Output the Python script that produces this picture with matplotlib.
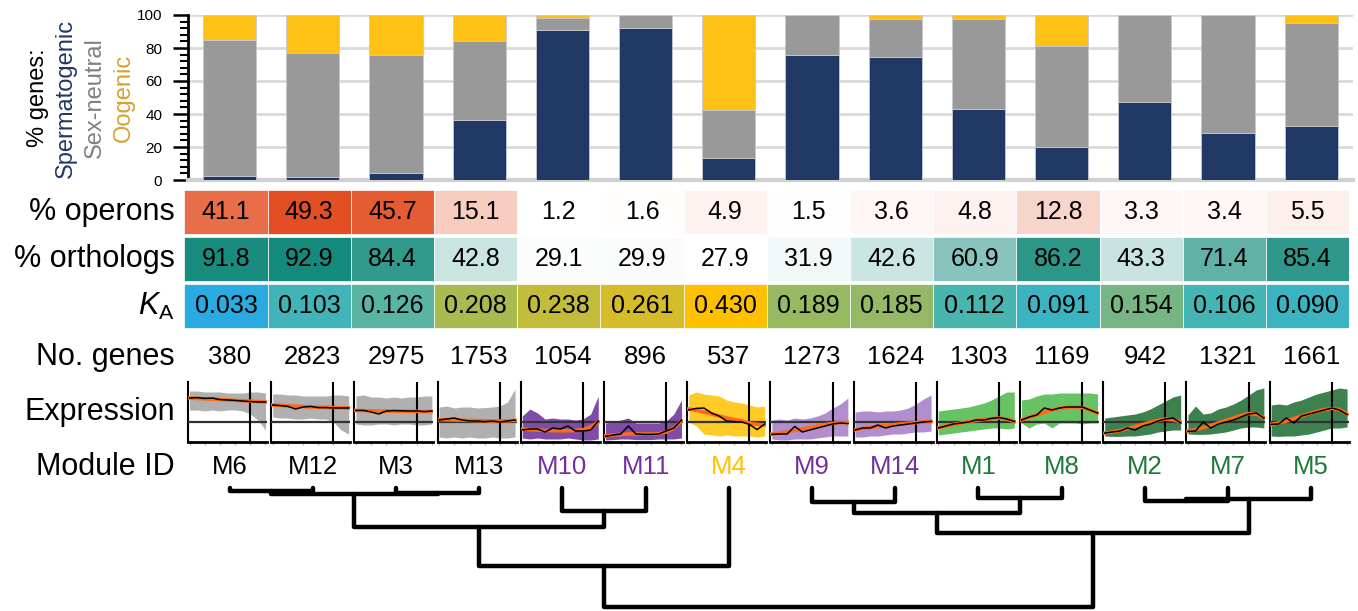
import numpy as np
import matplotlib
matplotlib.use("Agg")
import matplotlib.pyplot as plt
from matplotlib.patches import Rectangle
from matplotlib.colors import LinearSegmentedColormap, Normalize

plt.rcParams['font.family'] = ['Liberation Sans', 'DejaVu Sans']
plt.rcParams['mathtext.fontset'] = 'custom'
plt.rcParams['mathtext.rm'] = 'Liberation Sans'
plt.rcParams['mathtext.it'] = 'Liberation Sans:italic'

# module order (dendrogram leaf order)
modules = ['M6', 'M12', 'M3', 'M13', 'M10', 'M11', 'M4', 'M9', 'M14', 'M1', 'M8', 'M2', 'M7', 'M5']
module_colors = ['black', 'black', 'black', 'black', '#7030a0', '#7030a0', '#ffc000',
                 '#7030a0', '#7030a0', '#1f7a3a', '#1f7a3a', '#1f7a3a', '#1f7a3a', '#1f7a3a']

# % genes per sex-bias class
sperm = [2.2, 1.6, 4.1, 36.5, 91.2, 92.2, 13.3, 75.7, 74.5, 43.3, 20.0, 47.3, 28.6, 32.7]
neutral = [82.8, 75.4, 71.4, 47.8, 7.2, 7.6, 28.9, 24.3, 23.3, 54.3, 61.2, 52.7, 71.4, 62.6]
oogenic = [15.0, 23.0, 24.5, 15.7, 1.6, 0.2, 57.8, 0.0, 2.2, 2.4, 18.8, 0.0, 0.0, 4.7]

operons = [41.1, 49.3, 45.7, 15.1, 1.2, 1.6, 4.9, 1.5, 3.6, 4.8, 12.8, 3.3, 3.4, 5.5]
orthologs = [91.8, 92.9, 84.4, 42.8, 29.1, 29.9, 27.9, 31.9, 42.6, 60.9, 86.2, 43.3, 71.4, 85.4]
ka = [0.033, 0.103, 0.126, 0.208, 0.238, 0.261, 0.430, 0.189, 0.185, 0.112, 0.091, 0.154, 0.106, 0.090]
n_genes = [380, 2823, 2975, 1753, 1054, 896, 537, 1273, 1624, 1303, 1169, 942, 1321, 1661]

# expression profiles over 11 time points: black mean, orange fit, band top/bottom
expr_mean = {
    'M6': [1.2, 1.22, 1.18, 1.2, 1.12, 1.1, 1.08, 1.05, 1.02, 1.0, 1.0],
    'M12': [0.85, 0.82, 0.78, 0.65, 0.75, 0.78, 0.72, 0.72, 0.7, 0.7, 0.7],
    'M3': [0.58, 0.58, 0.5, 0.4, 0.55, 0.57, 0.56, 0.55, 0.55, 0.52, 0.55],
    'M13': [0.1, 0.15, 0.2, 0.1, 0.05, 0.05, 0.02, 0.05, 0.0, 0.05, 0.1],
    'M10': [-0.4, -0.35, -0.35, -0.5, -0.3, -0.35, -0.2, -0.45, -0.45, -0.4, 0.05],
    'M11': [-0.72, -0.65, -0.6, -0.2, -0.6, -0.62, -0.62, -0.6, -0.45, -0.3, 0.1],
    'M4': [0.6, 0.68, 0.7, 0.45, 0.3, 0.05, 0.02, 0.0, -0.12, -0.38, -0.1],
    'M9': [-0.62, -0.6, -0.6, -0.22, -0.5, -0.4, -0.3, -0.2, -0.1, -0.05, -0.08],
    'M14': [-0.4, -0.3, -0.3, -0.15, -0.3, -0.2, -0.15, -0.1, -0.05, 0.0, 0.03],
    'M1': [-0.3, -0.2, -0.1, -0.05, 0.0, 0.1, 0.1, 0.18, 0.22, 0.15, 0.03],
    'M8': [0.1, 0.25, 0.35, 0.7, 0.6, 0.7, 0.75, 0.75, 0.75, 0.6, 0.45],
    'M2': [-0.55, -0.5, -0.45, -0.3, -0.4, -0.2, -0.1, 0.05, 0.15, 0.2, -0.05],
    'M7': [-0.47, -0.45, 0.0, -0.3, -0.1, 0.0, 0.1, 0.25, 0.4, 0.45, 0.2],
    'M5': [-0.12, -0.1, 0.2, -0.05, 0.3, 0.4, 0.5, 0.6, 0.7, 0.6, 0.37],
}
expr_fit = {
    'M6': [1.2, 1.18, 1.16, 1.14, 1.12, 1.1, 1.08, 1.06, 1.04, 1.02, 1.0],
    'M12': [0.85, 0.83, 0.81, 0.79, 0.77, 0.75, 0.74, 0.73, 0.72, 0.71, 0.7],
    'M3': [0.58, 0.57, 0.56, 0.55, 0.55, 0.54, 0.54, 0.53, 0.53, 0.52, 0.52],
    'M13': [0.12, 0.11, 0.1, 0.09, 0.08, 0.07, 0.06, 0.05, 0.05, 0.06, 0.08],
    'M10': [-0.35, -0.38, -0.4, -0.42, -0.43, -0.44, -0.44, -0.42, -0.38, -0.25, 0.0],
    'M11': [-0.7, -0.65, -0.62, -0.6, -0.6, -0.6, -0.6, -0.58, -0.5, -0.3, 0.05],
    'M4': [0.65, 0.58, 0.5, 0.4, 0.3, 0.2, 0.12, 0.05, -0.05, -0.12, -0.15],
    'M9': [-0.6, -0.55, -0.5, -0.42, -0.35, -0.28, -0.2, -0.13, -0.07, -0.03, -0.02],
    'M14': [-0.38, -0.32, -0.27, -0.22, -0.18, -0.14, -0.1, -0.06, -0.03, 0.0, 0.03],
    'M1': [-0.28, -0.2, -0.12, -0.05, 0.02, 0.08, 0.13, 0.17, 0.2, 0.15, 0.03],
    'M8': [0.1, 0.22, 0.35, 0.48, 0.6, 0.68, 0.73, 0.76, 0.72, 0.6, 0.45],
    'M2': [-0.55, -0.5, -0.42, -0.33, -0.22, -0.12, -0.02, 0.08, 0.15, 0.12, 0.0],
    'M7': [-0.45, -0.38, -0.28, -0.18, -0.05, 0.08, 0.2, 0.32, 0.42, 0.4, 0.22],
    'M5': [-0.12, -0.05, 0.05, 0.17, 0.3, 0.42, 0.53, 0.62, 0.68, 0.62, 0.4],
}
expr_hi = {
    'M6': [1.55, 1.55, 1.5, 1.5, 1.5, 1.45, 1.45, 1.45, 1.5, 1.5, 1.45],
    'M12': [1.4, 1.4, 1.35, 1.35, 1.3, 1.3, 1.3, 1.3, 1.35, 1.35, 1.3],
    'M3': [1.3, 1.35, 1.25, 1.25, 1.2, 1.25, 1.2, 1.25, 1.25, 1.3, 1.3],
    'M13': [0.75, 0.8, 0.7, 0.75, 0.75, 0.7, 0.72, 0.75, 0.8, 1.0, 1.65],
    'M10': [0.3, 0.65, 0.45, 0.15, 0.2, 0.15, 0.15, 0.1, 0.15, 0.4, 1.3],
    'M11': [-0.05, 0.0, 0.1, 0.2, -0.05, -0.05, -0.05, -0.05, 0.05, 0.4, 1.1],
    'M4': [1.35, 1.5, 1.4, 1.35, 1.3, 1.1, 1.0, 0.95, 0.85, 0.75, 0.8],
    'M9': [0.1, 0.15, 0.1, 0.2, 0.15, 0.2, 0.3, 0.45, 0.7, 0.9, 1.2],
    'M14': [0.5, 0.55, 0.55, 0.5, 0.55, 0.55, 0.6, 0.7, 0.9, 1.15, 1.35],
    'M1': [0.55, 0.6, 0.65, 0.7, 0.75, 0.85, 0.95, 1.1, 1.3, 1.5, 1.5],
    'M8': [1.1, 1.15, 1.3, 1.4, 1.4, 1.45, 1.45, 1.45, 1.45, 1.45, 1.4],
    'M2': [0.2, 0.25, 0.3, 0.35, 0.4, 0.5, 0.65, 0.85, 1.05, 1.25, 1.35],
    'M7': [0.35, 0.8, 0.4, 0.45, 0.65, 0.75, 0.9, 1.1, 1.35, 1.6, 1.7],
    'M5': [0.85, 0.9, 0.85, 1.0, 1.1, 1.25, 1.4, 1.5, 1.6, 1.7, 1.65],
}
expr_lo = {
    'M6': [0.6, 0.6, 0.55, 0.6, 0.55, 0.6, 0.6, 0.55, 0.4, 0.1, -0.4],
    'M12': [0.25, 0.2, 0.2, 0.15, 0.15, 0.2, 0.15, 0.15, 0.0, -0.4, -0.6],
    'M3': [-0.1, -0.15, -0.15, -0.1, -0.1, -0.15, -0.1, -0.1, -0.15, -0.15, -0.1],
    'M13': [-0.75, -0.8, -0.75, -0.8, -0.75, -0.8, -0.8, -0.75, -0.8, -0.8, -0.75],
    'M10': [-0.8, -0.85, -0.8, -0.85, -0.85, -0.85, -0.8, -0.85, -0.9, -0.9, -0.85],
    'M11': [-0.9, -0.88, -0.85, -0.85, -0.88, -0.88, -0.88, -0.85, -0.85, -0.85, -0.8],
    'M4': [0.0, -0.2, -0.6, -0.65, -0.7, -0.65, -0.7, -0.7, -0.7, -0.75, -0.7],
    'M9': [-0.85, -0.9, -0.9, -0.85, -0.85, -0.85, -0.8, -0.75, -0.7, -0.7, -0.7],
    'M14': [-0.75, -0.75, -0.7, -0.7, -0.65, -0.6, -0.6, -0.55, -0.5, -0.5, -0.45],
    'M1': [-0.65, -0.6, -0.55, -0.5, -0.45, -0.4, -0.35, -0.3, -0.3, -0.35, -0.3],
    'M8': [-0.05, -0.3, -0.1, -0.05, -0.3, -0.05, -0.05, -0.05, -0.1, -0.05, -0.05],
    'M2': [-0.7, -0.72, -0.72, -0.7, -0.7, -0.65, -0.6, -0.5, -0.45, -0.4, -0.4],
    'M7': [-0.6, -0.62, -0.62, -0.6, -0.55, -0.5, -0.4, -0.3, -0.25, -0.25, -0.3],
    'M5': [-0.7, -0.72, -0.7, -0.7, -0.65, -0.6, -0.5, -0.4, -0.3, -0.3, -0.25],
}
band_colors = ['#a3a3a3', '#a3a3a3', '#a3a3a3', '#a3a3a3', '#6a2c9b', '#6a2c9b', '#ffc000',
               '#a47cc6', '#a47cc6', '#4cb848', '#4cb848', '#1b6b30', '#1b6b30', '#1b6b30']

# hierarchical clustering: (child a, child b, height); leaves are 0..13
links = [
    (0, 1, 3), (2, 3, 5), (14, 15, 6), (4, 5, 23), (16, 17, 39), (18, 6, 78),
    (7, 8, 14), (9, 10, 10), (20, 21, 25), (11, 12, 13), (23, 13, 11),
    (22, 24, 45), (19, 25, 119),
]

W, H = 1358, 611
fig = plt.figure(figsize=(W / 100, H / 100), dpi=100)

LEFT, CW = 188.0, 83.2     # left edge of the column block, column pitch
TAB0 = 226.0               # heatmap cells sit a few px left of the bars


def col_px(i):
    return LEFT + CW * (i + 0.5)


def add_px_axes(x0, y0, x1, y1):
    return fig.add_axes([x0 / W, 1 - y1 / H, (x1 - x0) / W, (y1 - y0) / H])


def fig_text(x, y, s, **kw):
    return fig.text(x / W, 1 - y / H, s, **kw)


x = np.arange(len(modules))
RIGHT = LEFT + CW * len(modules)

# ---- stacked bars ----
ax = add_px_axes(LEFT, 15, RIGHT, 180)
ax.set_xlim(-0.5, len(modules) - 0.5)
ax.set_ylim(0, 100)
s = np.array(sperm)
n = np.array(neutral)
o = np.array(oogenic)
kw = dict(width=0.64, edgecolor='#c4c8d0', linewidth=0.6, zorder=3)
ax.bar(x, s, color='#1f3864', **kw)
ax.bar(x, n, bottom=s, color='#999999', **kw)
ax.bar(x, o, bottom=s + n, color='#ffc115', **kw)
ax.set_axisbelow(True)
ax.yaxis.grid(True, color='#d9d9d9', lw=2)
ax.set_yticks(np.arange(0, 101, 20))
ax.set_yticks(np.arange(0, 101, 4), minor=True)
ax.tick_params(axis='y', which='major', length=10.5, width=1.8, labelsize=11, pad=8)
ax.tick_params(axis='y', which='minor', length=6, width=1.5)
ax.set_xticks([])
for side in ('top', 'right'):
    ax.spines[side].set_visible(False)
ax.spines['left'].set_linewidth(2)
ax.spines['bottom'].set_color('#d0d0d0')
ax.spines['bottom'].set_linewidth(3)

fig_text(38, 98, '% genes:', rotation=90, ha='center', va='center', fontsize=17)
fig_text(66, 98, 'Spermatogenic', rotation=90, ha='center', va='center', fontsize=17, color='#203864')
fig_text(95, 98, 'Sex-neutral', rotation=90, ha='center', va='center', fontsize=17, color='#808080')
fig_text(124, 98, 'Oogenic', rotation=90, ha='center', va='center', fontsize=17, color='#d6a22e')

# ---- heatmap rows ----
axt = add_px_axes(TAB0 - CW / 2, 189, TAB0 + CW * (len(modules) - 0.5), 329.5)
axt.set_xlim(-0.5, len(modules) - 0.5)
axt.set_ylim(2.5, -0.5)
axt.axis('off')

op_cmap = LinearSegmentedColormap.from_list('op', ['#ffffff', '#e34f24'])
orth_cmap = LinearSegmentedColormap.from_list('orth', ['#ffffff', '#148a7c'])
ka_cmap = LinearSegmentedColormap.from_list(
    'ka', [(0.0, '#29abe2'), (0.169, '#3fb4ba'), (0.305, '#78b585'),
           (0.441, '#a9bb4f'), (0.574, '#d4bc2a'), (1.0, '#ffc000')])

rows = [
    (operons, op_cmap, '{:.1f}'),
    (orthologs, orth_cmap, '{:.1f}'),
    (ka, ka_cmap, '{:.3f}'),
]
for r, (vals, cmap, fmt) in enumerate(rows):
    norm = Normalize(min(vals), max(vals))
    for i, v in enumerate(vals):
        axt.add_patch(Rectangle((i - 0.5, r - 0.47), 1, 0.94, facecolor=cmap(norm(v)),
                                edgecolor='white', lw=0.5))
        axt.text(i, r, fmt.format(v), ha='center', va='center', fontsize=18)

label_kw = dict(ha='right', va='center', fontsize=22)
fig_text(175, 212, '% operons', **label_kw)
fig_text(175, 259, '% orthologs', **label_kw)
fig_text(175, 306, r'$K_{\mathrm{A}}$', **label_kw)
fig_text(175, 357, 'No. genes', **label_kw)
fig_text(175, 412, 'Expression', **label_kw)
fig_text(175, 467, 'Module ID', **label_kw)

for i, (m, c, ng) in enumerate(zip(modules, module_colors, n_genes)):
    fig_text(col_px(i), 357, str(ng), ha='center', va='center', fontsize=18.5)
    fig_text(col_px(i), 467, m, ha='center', va='center', fontsize=18.5, color=c)

# ---- expression panels ----
t = np.arange(11)
for i, m in enumerate(modules):
    x0 = LEFT + CW * i
    axe = add_px_axes(x0, 382, x0 + 79, 442)
    axe.set_xlim(-0.2, 10.2)
    axe.set_ylim(-1, 2)
    axe.fill_between(t, expr_lo[m], expr_hi[m], color=band_colors[i], alpha=0.85, lw=0)
    axe.axhline(0, color='#333333', lw=1.6, zorder=3)
    axe.axvline(8, color='black', lw=1.5, zorder=3)
    axe.plot(t, expr_fit[m], color='#ff6a13', lw=2.6, zorder=4)
    axe.plot(t, expr_mean[m], color='black', lw=1.1, zorder=5)
    for side in ('top', 'right'):
        axe.spines[side].set_visible(False)
    axe.spines['left'].set_linewidth(1.5)
    axe.spines['bottom'].set_linewidth(2)
    axe.set_yticks([])
    axe.set_xticks(np.arange(0, 11, 2))
    axe.tick_params(axis='x', length=2, width=1, color='#bbbbbb', labelbottom=False)

# ---- dendrogram ----
axd = add_px_axes(LEFT, 480, RIGHT, 611)
axd.set_xlim(-0.5, len(modules) - 0.5)
axd.set_ylim(123, -8)
axd.axis('off')
node_x = {i: float(i) for i in range(len(modules))}
node_h = {i: 0.0 for i in range(len(modules))}
for k, (a, b, h) in enumerate(links):
    nid = len(modules) + k
    xa, xb = node_x[a], node_x[b]
    axd.plot([xa, xa, xb, xb], [node_h[a], h, h, node_h[b]], color='black', lw=3.2,
             solid_capstyle='round', solid_joinstyle='round', clip_on=False)
    node_x[nid] = (xa + xb) / 2
    node_h[nid] = h

fig.savefig('out.png', dpi=100)
